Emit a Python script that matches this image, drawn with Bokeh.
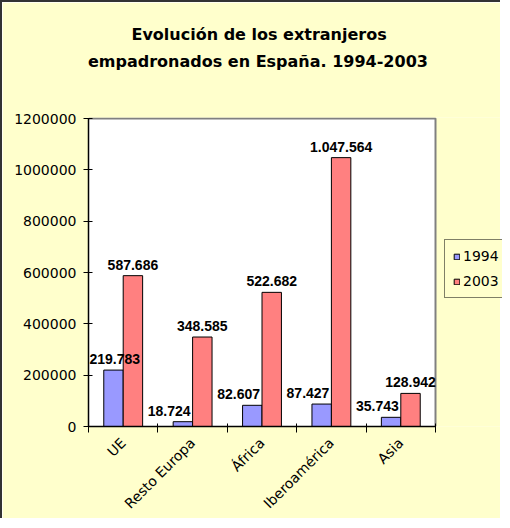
import math
from bokeh.plotting import figure
from bokeh.models import (ColumnDataSource, Range1d, FixedTicker, NumeralTickFormatter,
                          Legend, LegendItem, Title)
from bokeh.core.properties import value
from bokeh.embed import file_html
from bokeh.resources import INLINE

# ---------------- data ----------------
categories = ["UE", "Resto Europa", "África", "Iberoamérica", "Asia"]
series_names = ["1994", "2003"]
values_1994 = [219783, 18724, 82607, 87427, 35743]
values_2003 = [587686, 348585, 522682, 1047564, 128942]
y_ticks = [0, 200000, 400000, 600000, 800000, 1000000, 1200000]
title_lines = ["Evolución de los extranjeros", "empadronados en España. 1994-2003"]

# ---------------- style / layout ----------------
BG = "#FFFFCC"
C94 = "#9999FF"
C03 = "#FF8080"
BORDER = 2                              # css border (top/left) of the chart
W, H = 500, 518                         # canvas size
FL, FT, FH = 86, 115, 309               # frame left / top / height inside canvas
FW = 347                                # width of the plot area (categories)
FWX = W - FL                            # frame extends to the right edge (room for legend)
YMAX = y_ticks[-1]
n = len(categories)
XMAX = n * FWX / FW
YEND = YMAX * FH / (FH - 1)

p = figure(width=W, height=H, output_backend="svg", toolbar_location=None, title=None,
           x_range=Range1d(0, XMAX), y_range=Range1d(0, YEND),
           min_border_left=FL, min_border_top=FT, min_border_right=0,
           min_border_bottom=H - FT - FH,
           background_fill_color=BG, border_fill_color=BG, outline_line_color=None)
p.styles = {"border-left": f"{BORDER}px solid #333333",
            "border-top": f"{BORDER}px solid #333333"}
p.xgrid.visible = False
p.ygrid.visible = False

# white plot area with grey top/right border
p.quad(left=[0], right=[n], bottom=[0], top=[YMAX], fill_color="white", line_color=None)
p.line(x=[0, n, n], y=[YMAX, YMAX, 0], line_color="#808080", line_width=2)

px_per_x = FW / n
bw = 0.28
centers = [i + 0.5 for i in range(n)]
bounds = [float(i) for i in range(n + 1)]


def fmt(v):
    return f"{v:,}".replace(",", ".")


src = ColumnDataSource(dict(
    x94=[c - bw / 2 for c in centers],
    x03=[c + bw / 2 for c in centers],
    v94=values_1994, v03=values_2003,
    l94=[fmt(v) for v in values_1994], l03=[fmt(v) for v in values_2003],
))

r94 = p.vbar(x="x94", top="v94", width=bw, source=src, fill_color=C94,
             line_color="black", line_width=1)
r03 = p.vbar(x="x03", top="v03", width=bw, source=src, fill_color=C03,
             line_color="black", line_width=1)

lab_font = value("Liberation Sans")
p.text(x="x03", y="v03", text="l03", source=src, text_align="center",
       text_baseline="alphabetic", y_offset=-11, text_font=lab_font,
       text_font_style="bold", text_font_size="14px", text_color="black")

# 1994 labels: right-aligned to the bar's right edge, clamped at the plot's left edge
right_x, right_y, right_t = [], [], []
left_x, left_y, left_t = [], [], []
for c, v in zip(centers, values_1994):
    t = fmt(v)
    rx = c
    est_left_px = rx * px_per_x - 2 - 7.2 * len(t)
    if est_left_px < 0:
        left_x.append(0.0); left_y.append(v); left_t.append(t)
    else:
        right_x.append(rx); right_y.append(v); right_t.append(t)
if right_x:
    p.text(x=right_x, y=right_y, text=right_t, text_align="right", x_offset=-2,
           text_baseline="alphabetic", y_offset=-11, text_font=lab_font,
           text_font_style="bold", text_font_size="14px", text_color="black")
if left_x:
    p.text(x=left_x, y=left_y, text=left_t, text_align="left", x_offset=1,
           text_baseline="alphabetic", y_offset=-11, text_font=lab_font,
           text_font_style="bold", text_font_size="14px", text_color="black")

# ---------------- axes ----------------
ya = p.yaxis[0]
ya.ticker = FixedTicker(ticks=y_ticks, minor_ticks=[])
ya.formatter = NumeralTickFormatter(format="0")
ya.bounds = (0, YMAX)
ya.axis_line_color = "black"
ya.axis_line_width = 1.5
ya.major_tick_line_color = "black"
ya.major_tick_in = 4
ya.major_tick_out = 5
ya.minor_tick_in = 0
ya.minor_tick_out = 0
ya.major_label_text_font = "DejaVu Sans"
ya.major_label_text_font_size = "14px"
ya.major_label_text_color = "black"
ya.major_label_standoff = 7

xa = p.xaxis[0]
xa.ticker = FixedTicker(ticks=centers, minor_ticks=bounds)
xa.major_label_overrides = {c: name for c, name in zip(centers, categories)}
xa.bounds = (0, n)
xa.axis_line_color = "black"
xa.axis_line_width = 1.5
xa.major_tick_in = 0
xa.major_tick_out = 0
xa.minor_tick_in = 3
xa.minor_tick_out = 6
xa.minor_tick_line_color = "black"
xa.major_label_orientation = math.pi / 4
xa.major_label_standoff = 8
xa.major_label_text_font = "DejaVu Sans"
xa.major_label_text_font_size = "14px"
xa.major_label_text_color = "black"

# ---------------- title (two lines; a blank spacer sits nearest the plot) ----------------
title_center = FW / 2 - 4          # centre of the title, px from the frame's left edge
title_widths = [253, 340]          # approximate rendered widths of the two lines
title_style = dict(align="left", text_font="DejaVu Sans", text_font_style="bold",
                   text_font_size="16px", text_color="black")
p.add_layout(Title(text=" ", standoff=22, **title_style), "above")
p.add_layout(Title(text=title_lines[1], standoff=7,
                   offset=title_center - title_widths[1] / 2, **title_style), "above")
p.add_layout(Title(text=title_lines[0], standoff=6,
                   offset=title_center - title_widths[0] / 2, **title_style), "above")

# ---------------- legend ----------------
legend = Legend(items=[LegendItem(label=series_names[0], renderers=[r94]),
                       LegendItem(label=series_names[1], renderers=[r03])],
                location=(FW + 9, 128), orientation="vertical",
                glyph_width=7, glyph_height=7, label_height=15, label_standoff=3,
                spacing=9, padding=8, margin=0,
                border_line_color="black", border_line_width=1,
                background_fill_color=BG, background_fill_alpha=1.0,
                label_text_font="DejaVu Sans", label_text_font_size="14px",
                label_text_color="black")
p.add_layout(legend)

open("out.html", "w").write(file_html(p, INLINE))
